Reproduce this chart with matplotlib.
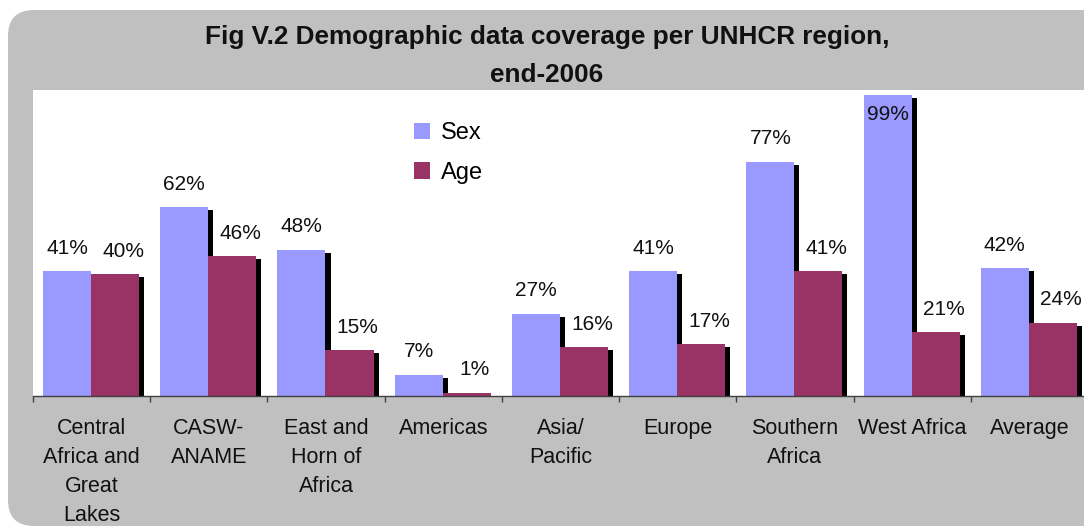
import matplotlib
matplotlib.use("Agg")
import matplotlib.pyplot as plt
import numpy as np
from matplotlib.patches import FancyBboxPatch, Patch
from matplotlib.transforms import IdentityTransform

plt.rcParams.update({"font.family": ["Liberation Sans", "DejaVu Sans"]})

# data
regions = ["Central\nAfrica and\nGreat\nLakes", "CASW-\nANAME", "East and\nHorn of\nAfrica",
           "Americas", "Asia/\nPacific", "Europe", "Southern\nAfrica", "West Africa", "Average"]
sex = [41, 62, 48, 7, 27, 41, 77, 99, 42]
age = [40, 46, 15, 1, 16, 17, 41, 21, 24]

W, H = 1084, 528
SEX_C, AGE_C, GREY = "#9999FF", "#993366", "#C0C0C0"

fig = plt.figure(figsize=(W / 100, H / 100), dpi=100, facecolor="white")

# grey rounded panel behind everything (pixel coords)
panel = FancyBboxPatch((8, 2), W + 40, H - 12, boxstyle="round,pad=0,rounding_size=26",
                       transform=IdentityTransform(), facecolor=GREY, edgecolor="none", zorder=0)
fig.add_artist(panel)

ax = fig.add_axes([33 / W, (H - 396) / H, (1088 - 33) / W, (396 - 90) / H])
ax.set_facecolor("white")
ax.set_zorder(1)

n = len(regions)
x = np.arange(n)
bw = 0.41
sx = x + 0.085
axx = sx + bw
dx = 0.043          # shadow shift (about 5 px)
dy = 1.0            # shadow drop (about 3 px)

ax.bar(sx + dx, np.array(sex) - dy, bw, align="edge", color="black", zorder=1)
ax.bar(axx + dx, np.array(age) - dy, bw, align="edge", color="black", zorder=1)
ax.bar(sx, sex, bw, align="edge", color=SEX_C, zorder=2, label="Sex")
ax.bar(axx, age, bw, align="edge", color=AGE_C, zorder=2, label="Age")

ymax = 100.6
ax.set_xlim(0, n)
ax.set_ylim(0, ymax)

# value labels
for xs, vals, shift in ((sx, sex, 0.0), (axx, age, 0.07)):
    for xi, v in zip(xs, vals):
        if v + 6 > ymax:
            ax.text(xi + bw / 2 + shift, ymax - 10, f"{v}%", ha="center", va="baseline",
                    fontsize=15, color="#111111", zorder=3)
        else:
            ax.annotate(f"{v}%", (xi + bw / 2 + shift, v), xytext=(0, 12.6),
                        textcoords="offset points", ha="center", va="baseline",
                        fontsize=15, color="#111111", zorder=3, annotation_clip=False)

for s in ("left", "right", "top"):
    ax.spines[s].set_visible(False)
ax.spines["bottom"].set_color("#404040")
ax.spines["bottom"].set_linewidth(1)
ax.set_yticks([])
ax.set_xticks(x + 0.5, regions, fontsize=15.5, linespacing=1.5, color="#111111")
ax.tick_params(axis="x", which="major", length=0, pad=16)
ax.set_xticks(np.arange(n + 1), minor=True)
ax.tick_params(axis="x", which="minor", length=4, width=1, color="#404040", direction="out")

handles = [Patch(facecolor=SEX_C, label="Sex"), Patch(facecolor=AGE_C, label="Age")]
ax.legend(handles=handles, loc="upper left", bbox_to_anchor=(414 / W, 1 - 122 / H),
          bbox_transform=fig.transFigure, frameon=False, fontsize=17, borderpad=0,
          borderaxespad=0, handlelength=0.68, handleheight=0.68, handletextpad=0.45,
          labelspacing=0.75)

fig.text(547 / W, 1 - 44 / H, "Fig V.2 Demographic data coverage per UNHCR region,",
         ha="center", va="baseline", fontsize=18.8, fontweight="bold", color="#111111")
fig.text(547 / W, 1 - 82 / H, "end-2006",
         ha="center", va="baseline", fontsize=18.8, fontweight="bold", color="#111111")

fig.savefig("out.png", dpi=100)
